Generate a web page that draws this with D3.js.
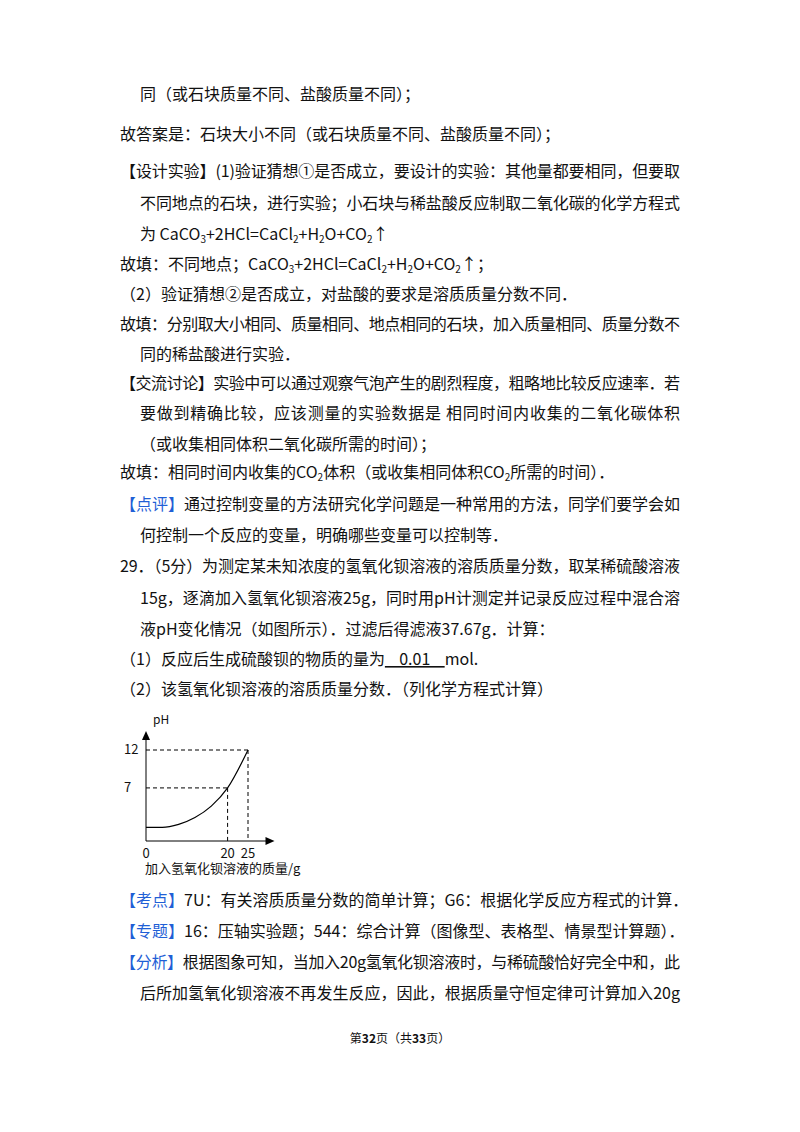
<!DOCTYPE html><html><head><meta charset="utf-8"><script src="https://cdn.jsdelivr.net/npm/d3@7"></script>
<style>body{margin:0;background:#fff}text{font-family:"Noto Sans CJK SC","Liberation Serif",serif;fill:#111}</style></head><body>
<script>
// chart data
const xVals=[0,4,8,12,16,20,25];
const pHVals=[1.8,1.8,2.2,3.1,4.6,7,12];
const xTicks=[0,20,25];
const yTicks=[7,12];
// page text: [x, y, text, justify]
const lines=[
[140,100,"同（或石块质量不同、盐酸质量不同）；",0],
[120,140,"故答案是：石块大小不同（或石块质量不同、盐酸质量不同）；",0],
[120,177,"【设计实验】(1)验证猜想①是否成立，要设计的实验：其他量都要相同，但要取",1],
[140,209,"不同地点的石块，进行实验；小石块与稀盐酸反应制取二氧化碳的化学方程式",1],
[140,240,"为  CaCO{3}+2HCl=CaCl{2}+H{2}O+CO{2}↑",0],
[120,270,"故填：不同地点；CaCO{3}+2HCl=CaCl{2}+H{2}O+CO{2}↑；",0],
[120,300,"（2）验证猜想②是否成立，对盐酸的要求是溶质质量分数不同．",0],
[120,330,"故填：分别取大小相同、质量相同、地点相同的石块，加入质量相同、质量分数不",1],
[140,360,"同的稀盐酸进行实验．",0],
[120,389,"【交流讨论】实验中可以通过观察气泡产生的剧烈程度，粗略地比较反应速率．若",1],
[140,419,"要做到精确比较，应该测量的实验数据是  相同时间内收集的二氧化碳体积",1],
[140,450,"（或收集相同体积二氧化碳所需的时间）；",0],
[120,478,"故填：相同时间内收集的CO{2}体积（或收集相同体积CO{2}所需的时间）．",0],
[120,510,"[【点评】]通过控制变量的方法研究化学问题是一种常用的方法，同学们要学会如",1],
[140,541,"何控制一个反应的变量，明确哪些变量可以控制等．",0],
[120,572,"29．（5分）为测定某未知浓度的氢氧化钡溶液的溶质质量分数，取某稀硫酸溶液",1],
[140,604,"15g，逐滴加入氢氧化钡溶液25g，同时用pH计测定并记录反应过程中混合溶",1],
[140,635,"液pH变化情况（如图所示）．过滤后得滤液37.67g．计算：",0],
[120,665,"（1）反应后生成硫酸钡的物质的量为<    0.01    >mol.",0],
[120,695,"（2）该氢氧化钡溶液的溶质质量分数．（列化学方程式计算）",0],
[120,906,"[【考点】]7U：有关溶质质量分数的简单计算；G6：根据化学反应方程式的计算．",0],
[120,937,"[【专题】]16：压轴实验题；544：综合计算（图像型、表格型、情景型计算题）．",0],
[120,968,"[【分析】]根据图象可知，当加入20g氢氧化钡溶液时，与稀硫酸恰好完全中和，此",1],
[140,999,"后所加氢氧化钡溶液不再发生反应，因此，根据质量守恒定律可计算加入20g",1]
];
const svg=d3.select("body").append("svg").attr("width",800).attr("height",1132);
lines.forEach(([x,y,s,j])=>{
  const t=svg.append("text").attr("x",x).attr("y",y).attr("font-size",16);
  if(j){t.attr("textLength",680-x).attr("lengthAdjust","spacing");}
  const parts=s.split(/(\{[^}]*\}|\[[^\]]*\]|<[^>]*>)/).filter(p=>p);
  parts.forEach(p=>{
    if(p[0]==="{") t.append("tspan").text(p.slice(1,-1)).attr("font-size",10).attr("baseline-shift","-25%");
    else if(p[0]==="[") t.append("tspan").text(p.slice(1,-1)).style("fill","#1f5fd6");
    else if(p[0]==="<") t.append("tspan").text(p.slice(1,-1)).style("text-decoration","underline").attr("xml:space","preserve").style("white-space","pre");
    else t.append("tspan").text(p);
  });
});
// footer
const f=svg.append("text").attr("x",400).attr("y",1043).attr("text-anchor","middle").attr("font-size",12);
f.append("tspan").text("第");f.append("tspan").text("32").attr("font-weight","bold");
f.append("tspan").text("页（共");f.append("tspan").text("33").attr("font-weight","bold");f.append("tspan").text("页）");
// chart
const x=d3.scaleLinear().domain([0,25]).range([146,248]);
const y=d3.scaleLinear().domain([0,12]).range([841,750]);
const g=svg.append("g").attr("stroke","#000").attr("fill","none");
g.append("line").attr("x1",x(0)).attr("x2",x(31.5)-6).attr("y1",y(0)).attr("y2",y(0));
g.append("line").attr("x1",x(0)).attr("x2",x(0)).attr("y1",y(0)).attr("y2",y(14.5)+6);
svg.append("path").attr("d",`M${x(31.5)},${y(0)}l-9,-4v8z`).attr("fill","#000");
svg.append("path").attr("d",`M${x(0)},${y(14.5)}l-4,9h8z`).attr("fill","#000");
const pts=xVals.map((v,i)=>[v,pHVals[i]]);
g.append("path").attr("d",d3.line().x(d=>x(d[0])).y(d=>y(d[1])).curve(d3.curveMonotoneX)(pts)).attr("stroke-width",1.2);
[[20,7],[25,12]].forEach(([a,b])=>{
  g.append("line").attr("x1",x(0)).attr("x2",x(a)).attr("y1",y(b)).attr("y2",y(b)).attr("stroke-dasharray","4,3");
  g.append("line").attr("x1",x(a)).attr("x2",x(a)).attr("y1",y(b)).attr("y2",y(0)).attr("stroke-dasharray","4,3");
});
svg.selectAll(".xt").data(xTicks).join("text").attr("x",d=>x(d)).attr("y",858).attr("text-anchor","middle").attr("font-size",13).attr("font-family","Liberation Serif").text(d=>d);
svg.selectAll(".yt").data(yTicks).join("text").attr("x",124).attr("y",d=>y(d)+4).attr("font-size",13).attr("font-family","Liberation Serif").text(d=>d);
svg.append("text").attr("x",153).attr("y",724).attr("font-size",12).attr("font-family","Liberation Serif").text("pH");
svg.append("text").attr("x",145).attr("y",873).attr("font-size",13).text("加入氢氧化钡溶液的质量/g");
</script></body></html>
